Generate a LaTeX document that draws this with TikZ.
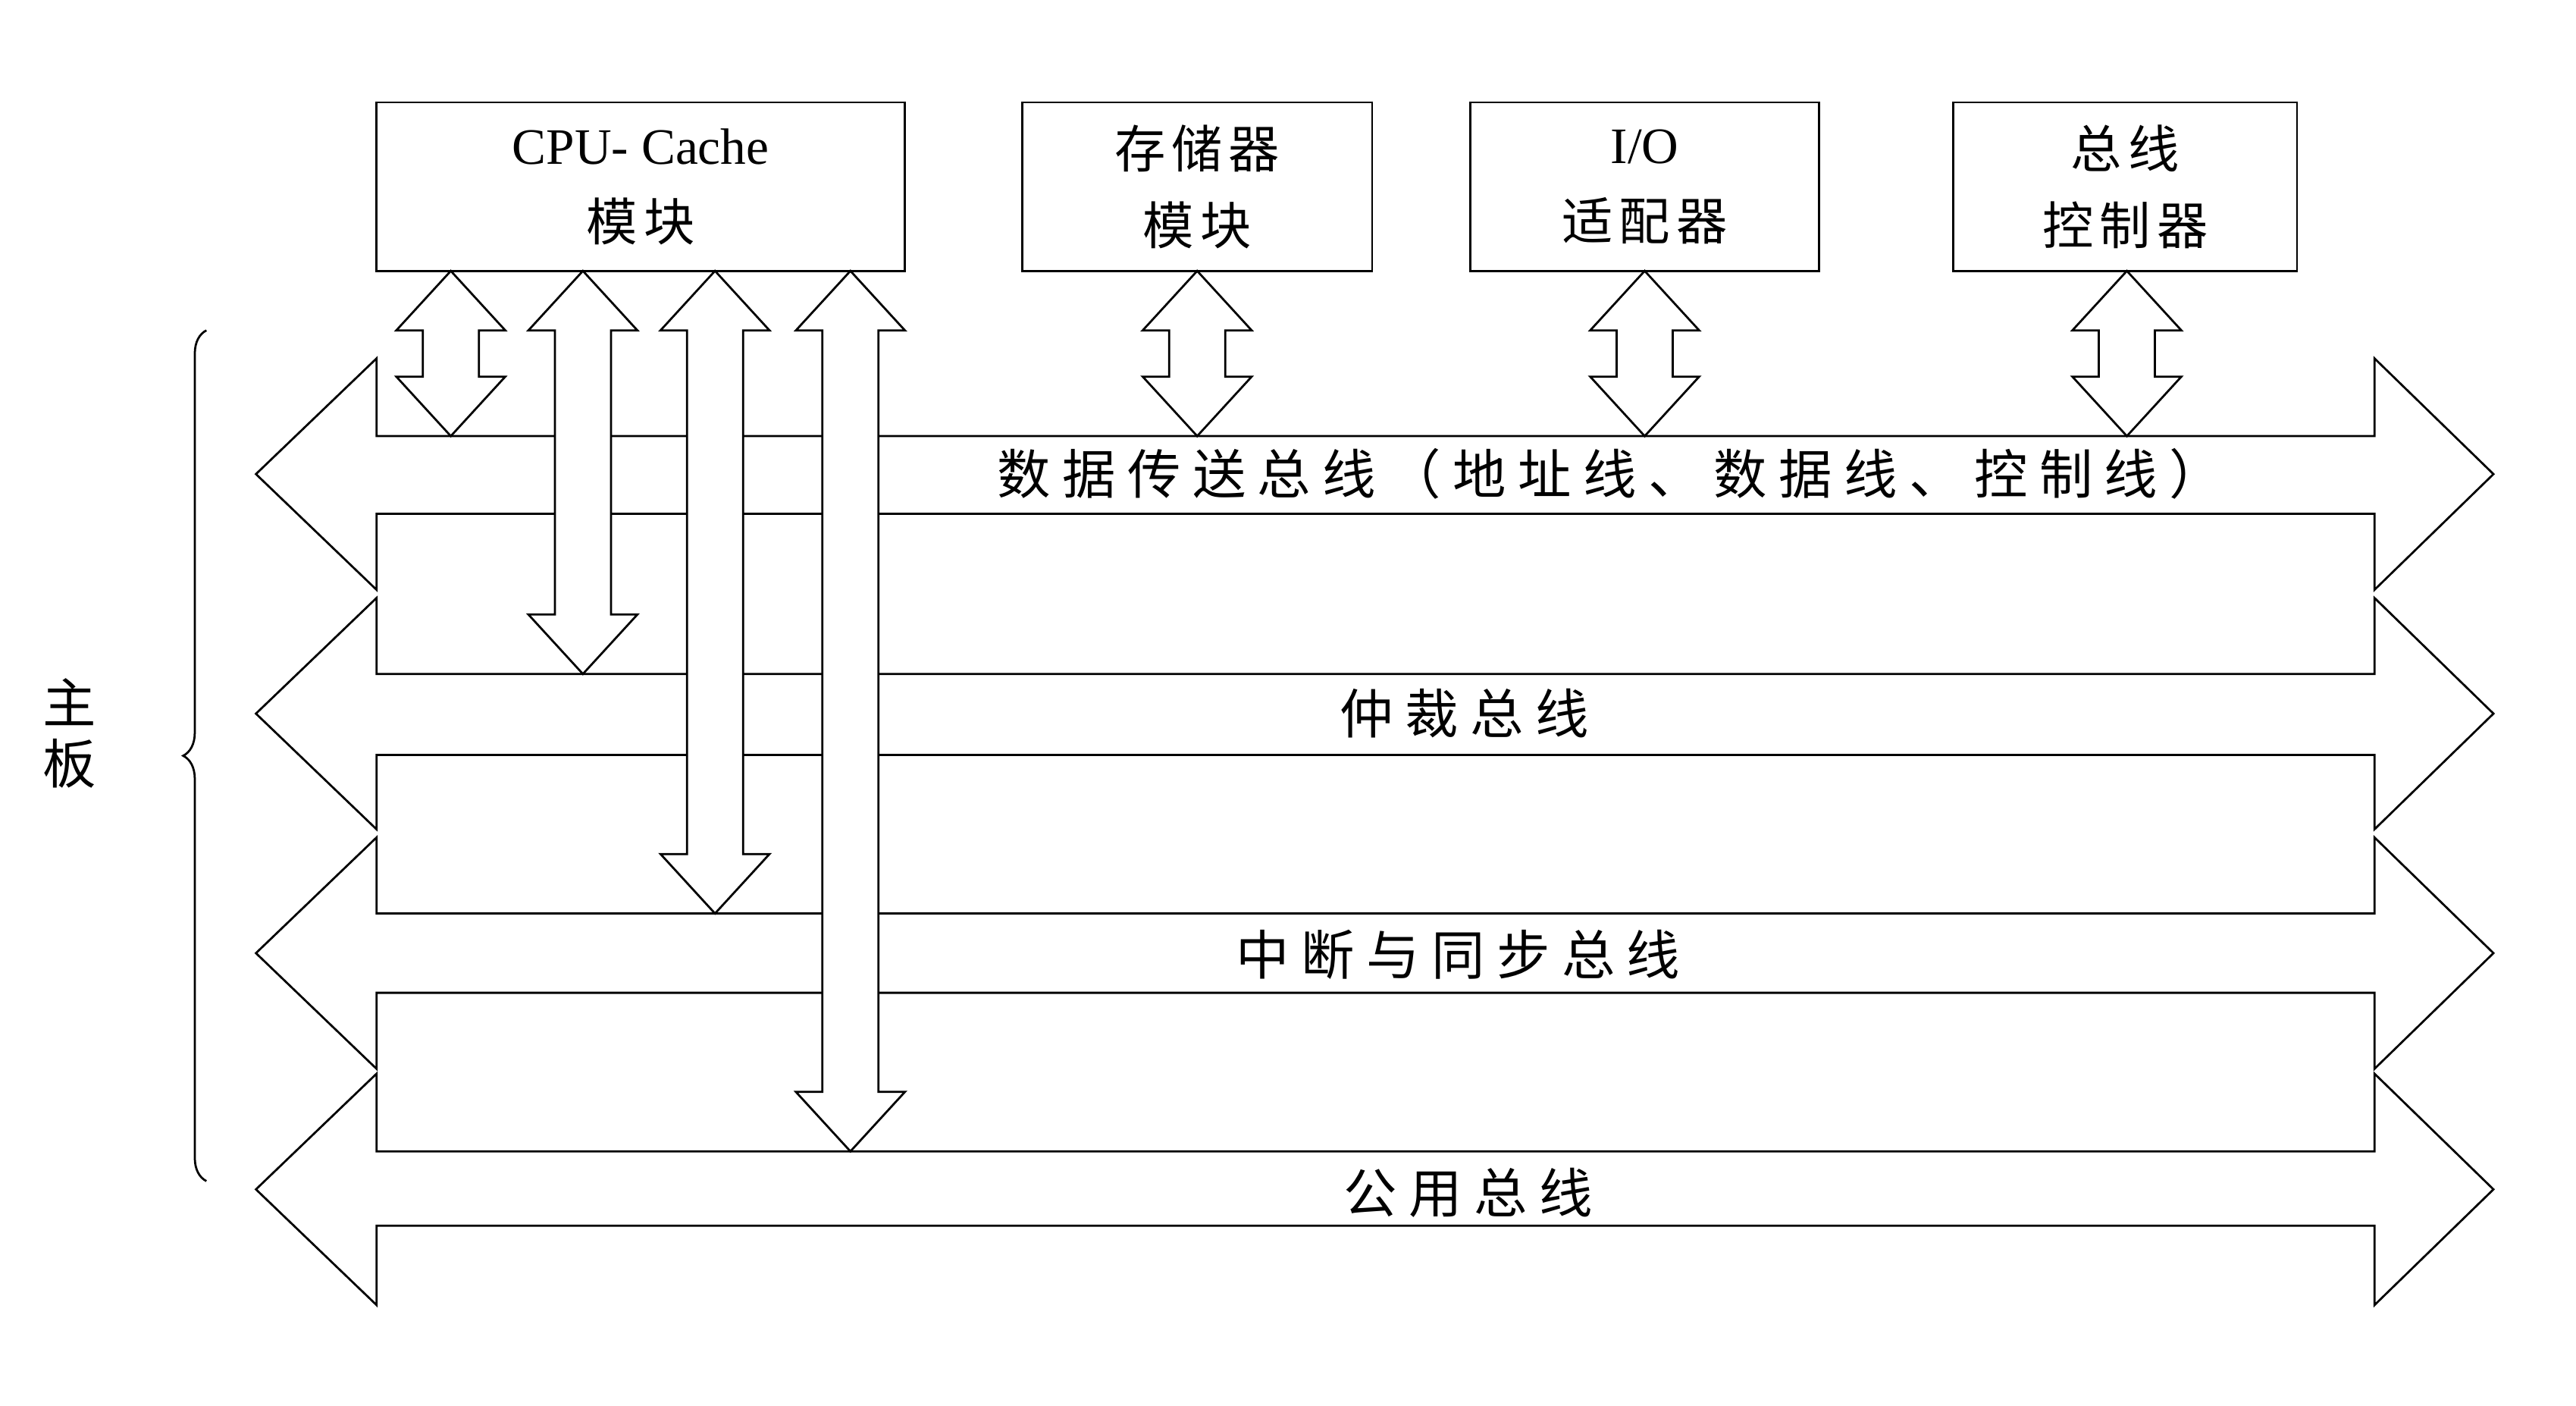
\documentclass[tikz,border=0pt]{standalone}
\usepackage{fontspec}
\setmainfont{Liberation Serif}
\newfontfamily\cjk[LetterSpace=12]{Noto Sans CJK SC}
\newfontfamily\cjkw[LetterSpace=22]{Noto Sans CJK SC}
\usetikzlibrary{decorations.pathreplacing}
\newcommand\busshape[4]{% center y, top, bottom, half head
  \draw[busline] (155,#1) -- (228,#1-#4) -- (228,#2) -- (1438,#2) -- (1438,#1-#4) -- (1510,#1) -- (1438,#1+#4) -- (1438,#3) -- (228,#3) -- (228,#1+#4) -- cycle;}
\newcommand\vdarrow[3]{% x center, y top, y bottom
  \draw[busline] (#1,#2) -- (#1+33,#2+36) -- (#1+17,#2+36) -- (#1+17,#3-36) -- (#1+33,#3-36) -- (#1,#3) -- (#1-33,#3-36) -- (#1-17,#3-36) -- (#1-17,#2+36) -- (#1-33,#2+36) -- cycle;}
\begin{document}
\begin{tikzpicture}[x=0.05cm,y=-0.05cm,
  busline/.style={draw=black,fill=white,line width=1.8pt,line join=miter},
  box/.style={draw=black,line width=1.8pt,minimum height=102*0.05cm,align=center,inner sep=0pt,font=\fontsize{44}{66}\selectfont},
  lab/.style={font=\cjkw\fontsize{46}{52}\selectfont}]
\useasboundingbox (0,0) rectangle (1560,851);
\busshape{287}{264}{311}{70}
\busshape{432}{408}{457}{70}
\busshape{577}{553}{601}{70}
\busshape{720}{697}{742}{70}
\node[box,minimum width=320*0.05cm] (cpu) at (388,113) {CPU- Cache\\{\cjk 模块}};
\node[box,minimum width=212*0.05cm] (mem) at (725,113) {\cjk 存储器\\\cjk 模块};
\node[box,minimum width=211*0.05cm] (io) at (996,113) {I/O\\{\cjk 适配器}};
\node[box,minimum width=208*0.05cm] (ctl) at (1287,113) {\cjk 总线\\\cjk 控制器};
\vdarrow{273}{164}{264}
\vdarrow{353}{164}{408}
\vdarrow{433}{164}{553}
\vdarrow{515}{164}{697}
\vdarrow{725}{164}{264}
\vdarrow{996}{164}{264}
\vdarrow{1288}{164}{264}
\node[lab] (l1) at (975,287) {数据传送总线（地址线、数据线、控制线）};
\node[lab] (l2) at (887,432) {仲裁总线};
\node[lab] (l3) at (883,578) {中断与同步总线};
\node[lab] (l4) at (889,722) {公用总线};
\node[lab,align=center] (mb) at (42,444) {主\\板};
\draw[line width=1.8pt,decorate,decoration={brace,amplitude=20pt,aspect=0.5}] (125,715) -- (125,200);
\end{tikzpicture}
\end{document}
